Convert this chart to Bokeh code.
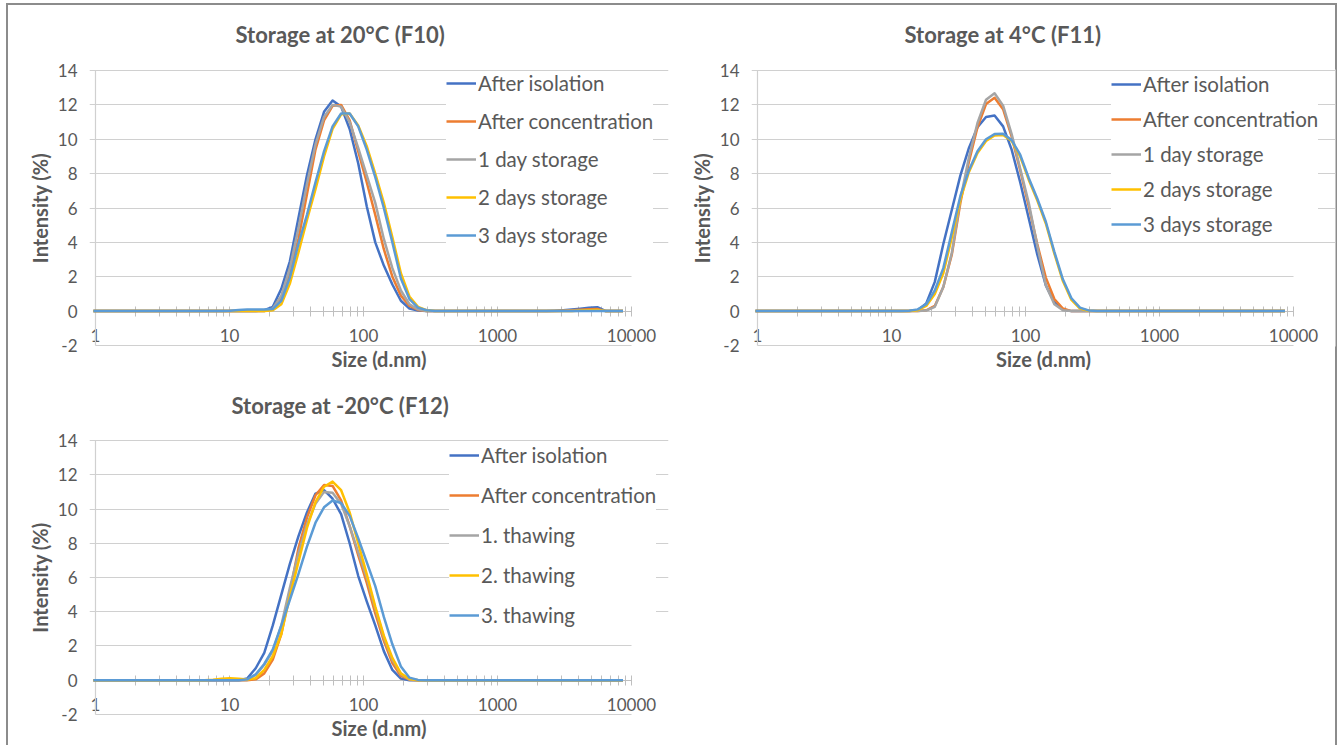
from bokeh.plotting import figure
from bokeh.models import (Range1d, FixedTicker, Legend, LegendItem, ColumnDataSource,
                          LogAxis, LinearAxis)
from bokeh.layouts import column, row
from bokeh.embed import file_html
from bokeh.resources import INLINE

# ---------------- data ----------------
sizes = [0.9649, 1.117, 1.294, 1.499, 1.736, 2.010, 2.328, 2.696, 3.122, 3.615,
         4.187, 4.849, 5.615, 6.503, 7.531, 8.721, 10.10, 11.70, 13.54, 15.69,
         18.17, 21.04, 24.36, 28.21, 32.67, 37.84, 43.82, 50.75, 58.77, 68.06,
         78.82, 91.28, 105.7, 122.4, 141.8, 164.2, 190.1, 220.2, 255.0, 295.3,
         342.0, 396.1, 458.7, 531.2, 615.1, 712.4, 825.0, 955.4, 1106, 1281,
         1484, 1718, 1990, 2305, 2669, 3091, 3580, 4145, 4801, 5560,
         6439, 7456, 8635]

x_major_ticks = [1, 10, 100, 1000, 10000]
x_tick_labels = ["1", "10", "100", "1000", "10000"]
x_minor_ticks = [2, 3, 4, 5, 6, 7, 8, 9,
                 20, 30, 40, 50, 60, 70, 80, 90,
                 200, 300, 400, 500, 600, 700, 800, 900,
                 2000, 3000, 4000, 5000, 6000, 7000, 8000, 9000]
y_ticks = [-2, 0, 2, 4, 6, 8, 10, 12, 14]
y_tick_labels = ["-2", "0", "2", "4", "6", "8", "10", "12", "14"]

labels_storage = ["After isolation", "After concentration", "1 day storage",
                  "2 days storage", "3 days storage"]
labels_thawing = ["After isolation", "After concentration", "1. thawing",
                  "2. thawing", "3. thawing"]

# Storage at 20 C (F10)
c1_isolation = [0, 0, 0, 0, 0, 0, 0, 0, 0, 0,
                0, 0, 0, 0, 0, 0, 0, 0, 0, 0,
                0.05, 0.25, 1.3, 2.9, 5.4, 7.9, 10.0, 11.6, 12.25, 11.9,
                10.6, 8.6, 6.1, 4.0, 2.65, 1.55, 0.6, 0.15, 0.03, 0,
                0, 0, 0, 0, 0, 0, 0, 0, 0, 0,
                0, 0, 0, 0, 0.02, 0.05, 0.09, 0.14, 0.19, 0.23,
                0, 0, 0]
c1_concentration = [0, 0, 0, 0, 0, 0, 0, 0, 0, 0,
                    0, 0, 0, 0, 0, 0, 0, 0, 0, 0,
                    0, 0.1, 0.7, 2.2, 4.2, 6.8, 9.4, 11.1, 11.95, 12.0,
                    11.1, 9.3, 7.5, 5.6, 3.6, 2.0, 0.9, 0.3, 0.07, 0,
                    0, 0, 0, 0, 0, 0, 0, 0, 0, 0,
                    0, 0, 0, 0, 0, 0.02, 0.05, 0.08, 0.11, 0.12,
                    0, 0, 0]
c1_day1 = [0, 0, 0, 0, 0, 0, 0, 0, 0, 0,
           0, 0, 0, 0, 0, 0, 0, 0, 0, 0,
           0, 0.15, 0.9, 2.5, 4.8, 7.4, 9.7, 11.3, 12.0, 11.9,
           11.0, 9.5, 7.9, 6.3, 4.2, 2.5, 1.2, 0.4, 0.1, 0,
           0, 0, 0, 0, 0, 0, 0, 0, 0, 0,
           0, 0, 0, 0, 0, 0, 0, 0.02, 0.04, 0.05,
           0, 0, 0]
c1_day2 = [0, 0, 0, 0, 0, 0, 0, 0, 0, 0,
           0, 0, 0, 0, 0, 0, 0, 0, 0, 0,
           0, 0.05, 0.4, 1.6, 3.4, 5.3, 7.1, 9.0, 10.6, 11.45,
           11.5, 10.8, 9.6, 8.0, 6.3, 4.3, 2.2, 0.85, 0.25, 0.05,
           0, 0, 0, 0, 0, 0, 0, 0, 0, 0,
           0, 0, 0, 0, 0, 0, 0, 0.03, 0.05, 0.06,
           0, 0, 0]
c1_day3 = [0, 0, 0, 0, 0, 0, 0, 0, 0, 0,
           0, 0, 0, 0, 0, 0, 0.02, 0.06, 0.09, 0.1,
           0.1, 0.12, 0.6, 1.95, 3.9, 5.6, 7.5, 9.3, 10.75, 11.5,
           11.5, 10.75, 9.4, 7.8, 6.0, 4.0, 1.9, 0.7, 0.2, 0.05,
           0, 0, 0, 0, 0, 0, 0, 0, 0, 0,
           0, 0, 0, 0, 0, 0, 0, 0, 0, 0,
           0, 0, 0]

# Storage at 4 C (F11)
c2_isolation = [0, 0, 0, 0, 0, 0, 0, 0, 0, 0,
                0, 0, 0, 0, 0, 0, 0, 0, 0, 0.05,
                0.45, 1.7, 3.9, 5.9, 7.9, 9.5, 10.7, 11.3, 11.38, 10.75,
                9.4, 7.5, 5.4, 3.3, 1.5, 0.5, 0.1, 0, 0, 0,
                0, 0, 0, 0, 0, 0, 0, 0, 0, 0,
                0, 0, 0, 0, 0, 0, 0, 0, 0, 0,
                0, 0, 0]
c2_concentration = [0, 0, 0, 0, 0, 0, 0, 0, 0, 0,
                    0, 0, 0, 0, 0, 0, 0, 0, 0, 0,
                    0.05, 0.3, 1.4, 3.3, 6.3, 8.7, 10.7, 12.05, 12.41, 11.75,
                    10.15, 8.2, 6.1, 3.9, 1.95, 0.7, 0.15, 0, 0, 0,
                    0, 0, 0, 0, 0, 0, 0, 0, 0, 0,
                    0, 0, 0, 0, 0, 0, 0, 0, 0, 0,
                    0, 0, 0]
c2_day1 = [0, 0, 0, 0, 0, 0, 0, 0, 0, 0,
           0, 0, 0, 0, 0, 0, 0, 0, 0, 0,
           0.03, 0.25, 1.4, 3.4, 6.5, 8.95, 10.95, 12.3, 12.68, 11.96,
           10.3, 8.3, 6.3, 3.8, 1.5, 0.4, 0.05, 0, 0, 0,
           0, 0, 0, 0, 0, 0, 0, 0, 0, 0,
           0, 0, 0, 0, 0, 0, 0, 0, 0, 0,
           0, 0, 0]
c2_day2 = [0, 0, 0, 0, 0, 0, 0, 0, 0, 0,
           0, 0, 0, 0, 0, 0, 0, 0, 0, 0.05,
           0.3, 1.0, 2.2, 4.3, 6.5, 8.1, 9.2, 9.9, 10.22, 10.25,
           9.9, 9.0, 7.65, 6.45, 5.1, 3.35, 1.75, 0.65, 0.15, 0.02,
           0, 0, 0, 0, 0, 0, 0, 0, 0, 0,
           0, 0, 0, 0, 0, 0, 0, 0, 0, 0,
           0, 0, 0]
c2_day3 = [0, 0, 0, 0, 0, 0, 0, 0, 0, 0,
           0, 0, 0, 0, 0, 0, 0, 0, 0.02, 0.1,
           0.4, 1.2, 2.5, 4.6, 6.7, 8.2, 9.3, 10.0, 10.3, 10.32,
           9.95, 9.1, 7.75, 6.55, 5.2, 3.45, 1.85, 0.75, 0.2, 0.04,
           0, 0, 0, 0, 0, 0, 0, 0, 0, 0,
           0, 0, 0, 0, 0, 0, 0, 0, 0, 0,
           0, 0, 0]

# Storage at -20 C (F12)
c3_isolation = [0, 0, 0, 0, 0, 0, 0, 0, 0, 0,
                0, 0, 0, 0, 0, 0, 0, 0, 0.1, 0.7,
                1.6, 3.2, 5.0, 6.8, 8.4, 9.8, 10.9, 11.1, 10.6, 9.7,
                8.0, 6.1, 4.6, 3.2, 1.7, 0.6, 0.1, 0, 0, 0,
                0, 0, 0, 0, 0, 0, 0, 0, 0, 0,
                0, 0, 0, 0, 0, 0, 0, 0, 0, 0,
                0, 0, 0]
c3_concentration = [0, 0, 0, 0, 0, 0, 0, 0, 0, 0,
                    0, 0, 0, 0, 0, 0, 0, 0, 0, 0.05,
                    0.4, 1.2, 2.7, 5.1, 7.7, 9.5, 10.8, 11.4, 11.35, 10.5,
                    9.0, 7.3, 5.7, 3.9, 2.3, 1.0, 0.25, 0.03, 0, 0,
                    0, 0, 0, 0, 0, 0, 0, 0, 0, 0,
                    0, 0, 0, 0, 0, 0, 0, 0, 0, 0,
                    0, 0, 0]
c3_thaw1 = [0, 0, 0, 0, 0, 0, 0, 0, 0, 0,
            0, 0, 0, 0, 0, 0, 0, 0, 0.02, 0.3,
            0.9, 1.7, 3.2, 5.4, 7.4, 9.1, 10.3, 11.0, 10.95, 10.3,
            9.0, 7.5, 6.0, 4.2, 2.5, 1.2, 0.35, 0.05, 0, 0,
            0, 0, 0, 0, 0, 0, 0, 0, 0, 0,
            0, 0, 0, 0, 0, 0, 0, 0, 0, 0,
            0, 0, 0]
c3_thaw2 = [0, 0, 0, 0, 0, 0, 0, 0, 0, 0,
            0, 0, 0, 0, 0.03, 0.08, 0.11, 0.09, 0.04, 0.12,
            0.6, 1.4, 2.7, 4.9, 6.9, 8.9, 10.4, 11.3, 11.6, 11.1,
            9.8, 8.0, 6.2, 4.3, 2.6, 1.3, 0.4, 0.07, 0, 0,
            0, 0, 0, 0, 0, 0, 0, 0, 0, 0,
            0, 0, 0, 0, 0, 0, 0, 0, 0, 0,
            0, 0, 0]
c3_thaw3 = [0, 0, 0, 0, 0, 0, 0, 0, 0, 0,
            0, 0, 0, 0, 0, 0, 0, 0, 0.05, 0.35,
            0.95, 1.8, 3.2, 4.7, 6.2, 7.8, 9.2, 10.1, 10.5, 10.35,
            9.6, 8.3, 6.9, 5.5, 3.7, 2.1, 0.8, 0.15, 0.02, 0,
            0, 0, 0, 0, 0, 0, 0, 0, 0, 0,
            0, 0, 0, 0, 0, 0, 0, 0, 0, 0,
            0, 0, 0]

COLORS = ["#4472C4", "#ED7D31", "#A5A5A5", "#FFC000", "#5B9BD5"]
FONT = "Lato"
TXT = "#595959"
GRID = "#D0D0D0"
AXIS = "#BFBFBF"


def line_axis(cls, loc, bounds):
    ax = cls(fixed_location=loc, bounds=bounds, ticker=FixedTicker(ticks=[]),
             axis_line_color=GRID, axis_line_width=1.2, major_tick_line_color=None,
             minor_tick_line_color=None, level="underlay")
    return ax


def make_chart(title, labels, series, width, height, left, right, top, bottom,
               x_end, title_offset, title_standoff, leg_x, leg_y, leg_spacing):
    p = figure(width=width, height=height, x_axis_type="log",
               x_range=Range1d(0.902, x_end), y_range=Range1d(-2.06, 14.06),
               output_backend="svg", toolbar_location=None, title=title,
               min_border_left=left, min_border_right=right,
               min_border_top=top, min_border_bottom=bottom)
    p.outline_line_color = None
    p.border_fill_alpha = 0
    p.background_fill_color = "white"

    p.title.align = "left"
    p.title.vertical_align = "top"
    p.title.offset = title_offset
    p.title.text_font = FONT
    p.title.text_font_size = "22px"
    p.title.text_font_style = "bold"
    p.title.text_color = TXT
    p.title.standoff = title_standoff

    # axis that only carries the x axis title (below the frame)
    xl = p.xaxis[0]
    xl.ticker = FixedTicker(ticks=[])
    xl.axis_line_color = None
    xl.major_tick_line_color = None
    xl.minor_tick_line_color = None
    xl.axis_label = "Size (d.nm)"
    xl.axis_label_text_font = FONT
    xl.axis_label_text_font_size = "20px"
    xl.axis_label_text_font_style = "bold"
    xl.axis_label_text_color = TXT
    xl.axis_label_standoff = 0

    # the log axis crossing at y = 0
    xa = LogAxis(fixed_location=0, bounds=(1, 10000), level="underlay",
                 ticker=FixedTicker(ticks=x_major_ticks, minor_ticks=x_minor_ticks))
    xa.major_label_overrides = {t: s for t, s in zip(x_major_ticks, x_tick_labels)}
    xa.axis_line_color = AXIS
    xa.major_tick_line_color = AXIS
    xa.minor_tick_line_color = AXIS
    xa.major_tick_in = 5
    xa.major_tick_out = 5
    xa.minor_tick_in = 5
    xa.minor_tick_out = 5
    xa.major_label_standoff = 13
    xa.major_label_text_font = FONT
    xa.major_label_text_font_size = "17px"
    xa.major_label_text_color = TXT
    p.add_layout(xa, "below")
    # horizontal value lines at -2 and 2 that stop at 10000
    p.add_layout(line_axis(LogAxis, -2, (1, 10000)), "below")
    p.add_layout(line_axis(LogAxis, 2, (1, 10000)), "below")

    ya = p.yaxis[0]
    ya.ticker = FixedTicker(ticks=y_ticks)
    ya.major_label_overrides = {t: s for t, s in zip(y_ticks, y_tick_labels)}
    ya.axis_line_color = None
    ya.major_tick_line_color = None
    ya.minor_tick_line_color = None
    ya.major_tick_in = 0
    ya.major_tick_out = 0
    ya.major_label_standoff = 12
    ya.major_label_text_font = FONT
    ya.major_label_text_font_size = "17px"
    ya.major_label_text_color = TXT
    ya.axis_label = "Intensity (%)"
    ya.axis_label_text_font = FONT
    ya.axis_label_text_font_size = "20px"
    ya.axis_label_text_font_style = "bold"
    ya.axis_label_text_color = TXT
    ya.axis_label_standoff = 3
    # vertical line at x = 1
    p.add_layout(line_axis(LinearAxis, 1, (-2, 14)), "left")

    p.xgrid.visible = False
    p.ygrid.ticker = FixedTicker(ticks=[t for t in y_ticks if t >= 4])
    p.ygrid.grid_line_color = GRID

    items = []
    for lab, ys, col in zip(labels, series, COLORS):
        src = ColumnDataSource(dict(x=sizes, y=ys))
        r = p.line("x", "y", source=src, line_color=col, line_width=2.5,
                   line_join="round")
        items.append(LegendItem(label=lab, renderers=[r]))
    leg = Legend(items=items, location=(leg_x, leg_y))
    leg.label_text_font = FONT
    leg.label_text_font_size = "20.5px"
    leg.label_text_color = TXT
    leg.glyph_width = 30
    leg.glyph_height = 24
    leg.label_height = 24
    leg.label_standoff = 2
    leg.spacing = leg_spacing
    leg.padding = 8
    leg.margin = 0
    leg.background_fill_color = "white"
    leg.background_fill_alpha = 1
    leg.border_line_color = None
    p.add_layout(leg)
    return p


f1 = make_chart("Storage at 20°C (F10)", labels_storage,
                [c1_isolation, c1_concentration, c1_day1, c1_day2, c1_day3],
                670, 373, 89, 2, 69, 27, 18880, 146, 40, 357, 99, 14)
f2 = make_chart("Storage at 4°C (F11)", labels_storage,
                [c2_isolation, c2_concentration, c2_day1, c2_day2, c2_day3],
                671, 373, 81, 6, 69, 27, 20580, 153, 40, 360, 110, 11)
f3 = make_chart("Storage at -20°C (F12)", labels_thawing,
                [c3_isolation, c3_concentration, c3_thaw1, c3_thaw2, c3_thaw3],
                670, 372, 89, 2, 66, 30, 18880, 142, 37, 360, 88, 16)

BORDER = ("inset 6px 0 0 #ffffff, inset 0 3px 0 #ffffff, inset -4px 0 0 #ffffff, "
          "inset 8px 0 0 #8C8C8C, inset 0 5px 0 #8C8C8C, inset -6px 0 0 #8C8C8C")
layout = column(row(f1, f2), f3, styles={"box-shadow": BORDER})

open("out.html", "w").write(file_html(layout, INLINE))
